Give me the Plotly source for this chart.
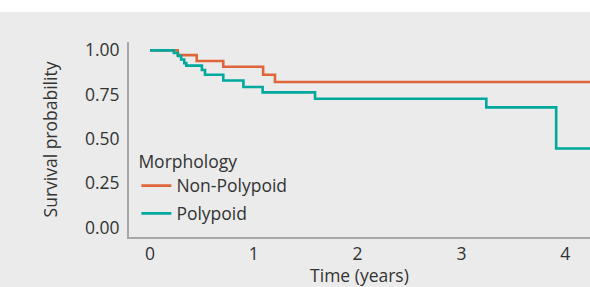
import plotly.graph_objects as go

# Kaplan-Meier step data (time in years, survival probability)
nonpoly_time = [0, 0.267, 0.45, 0.706, 1.09, 1.204, 4.3]
nonpoly_surv = [1.0, 0.973, 0.94, 0.907, 0.862, 0.821, 0.821]

poly_time = [0, 0.23, 0.27, 0.30, 0.33, 0.35, 0.50, 0.53, 0.706, 0.90, 1.085, 1.59, 3.24, 3.913, 4.3]
poly_surv = [1.0, 0.985, 0.968, 0.948, 0.928, 0.914, 0.889, 0.862, 0.83, 0.793, 0.763, 0.727, 0.678, 0.446, 0.446]

x_ticks = [0, 1, 2, 3, 4]
y_ticks = [0.0, 0.25, 0.5, 0.75, 1.0]
y_tick_labels = ["0.00", "0.25", "0.50", "0.75", "1.00"]

ORANGE = "#E0663A"
TEAL = "#00A99D"
BG = "#EAEBEA"
AXIS = "#A6A7A8"
TEXT = "#333333"
FONT = "Open Sans"
FS = 17.5

fig = go.Figure()
fig.add_trace(go.Scatter(x=nonpoly_time, y=nonpoly_surv, mode="lines", line_shape="hv",
                         line=dict(color=ORANGE, width=2.6), name="Non-Polypoid",
                         legendgroup="a"))
fig.add_trace(go.Scatter(x=poly_time, y=poly_surv, mode="lines", line_shape="hv",
                         line=dict(color=TEAL, width=2.6), name="Polypoid",
                         legendgroup="b"))

fig.update_layout(
    width=590, height=287,
    margin=dict(l=129, r=0, t=42, b=50),
    paper_bgcolor=BG, plot_bgcolor=BG,
    font=dict(family=FONT, size=FS, color=TEXT),
    showlegend=True,
    legend=dict(
        title=dict(text="Morphology", font=dict(size=FS, color=TEXT)),
        x=0.016, y=0.472, xanchor="left", yanchor="top",
        bgcolor="rgba(0,0,0,0)", font=dict(size=FS, color=TEXT),
        itemwidth=30, tracegroupgap=2, traceorder="grouped",
    ),
    xaxis=dict(range=[-0.2023, 4.2389], tickvals=x_ticks, showgrid=False, zeroline=False,
               showline=True, linecolor=AXIS, linewidth=2, ticks="",
               title=dict(text="Time (years)", standoff=5, font=dict(size=FS)),
               tickfont=dict(size=FS)),
    yaxis=dict(range=[-0.053, 1.047], tickvals=y_ticks, ticktext=y_tick_labels, showgrid=False,
               zeroline=False, showline=True, linecolor=AXIS, linewidth=2, ticks="",
               ticklabelstandoff=4,
               title=dict(text="Survival probability", standoff=23, font=dict(size=FS)),
               tickfont=dict(size=FS)),
    shapes=[dict(type="rect", xref="paper", yref="paper", x0=-0.5, x1=1.5, y0=1.1538, y1=1.4,
                 fillcolor="white", line=dict(width=0), layer="above")],
)

fig.write_html("out.html", config={"displayModeBar": False},
               post_script="document.body.style.margin='0';document.body.style.padding='0';")
